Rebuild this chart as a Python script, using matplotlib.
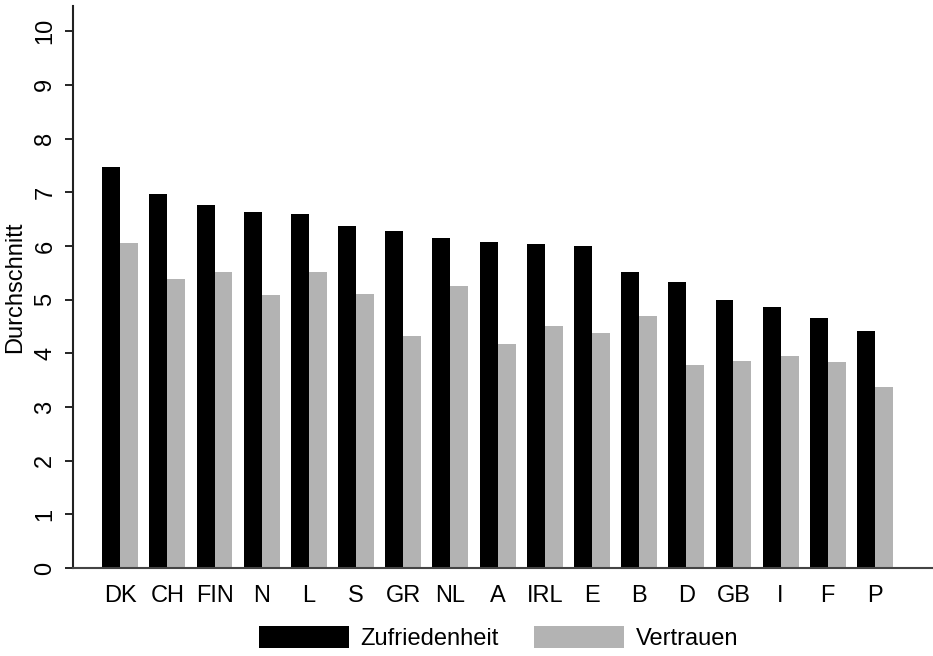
import matplotlib.pyplot as plt
import numpy as np

plt.rcParams['font.family'] = ['Liberation Sans', 'DejaVu Sans']

# Laender und Durchschnittswerte
laender = ['DK', 'CH', 'FIN', 'N', 'L', 'S', 'GR', 'NL', 'A', 'IRL', 'E', 'B', 'D', 'GB', 'I', 'F', 'P']
zufriedenheit = [7.47, 6.96, 6.77, 6.64, 6.60, 6.37, 6.28, 6.15, 6.07, 6.03, 5.99, 5.52, 5.33, 4.99, 4.86, 4.66, 4.41]
vertrauen = [6.06, 5.38, 5.51, 5.09, 5.52, 5.10, 4.32, 5.25, 4.18, 4.51, 4.37, 4.70, 3.78, 3.85, 3.95, 3.83, 3.37]
y_ticks = list(range(0, 11))

fig = plt.figure(figsize=(9.33, 6.56), dpi=100)
ax = fig.add_axes([73 / 933, 88 / 656, 1 - 73 / 933, (568 - 6) / 656])

x = np.arange(len(laender))
w = 0.38
ax.bar(x - w / 2, zufriedenheit, w, color='black', label='Zufriedenheit')
ax.bar(x + w / 2, vertrauen, w, color='#b3b3b3', label='Vertrauen')

ax.set_xlim(-1.0, 17.23)
ax.set_ylim(0, 10.47)
ax.set_yticks(y_ticks)
ax.set_yticklabels([str(t) for t in y_ticks], rotation=90, va='center', fontsize=17)
ax.set_xticks(x)
ax.set_xticklabels(laender, fontsize=17)
ax.tick_params(axis='x', length=0, pad=12)
ax.tick_params(axis='y', length=6, width=1.2, direction='out', pad=6)
ax.set_ylabel('Durchschnitt', fontsize=17, labelpad=6)

for s in ['top', 'right']:
    ax.spines[s].set_visible(False)
ax.spines['left'].set_linewidth(1.5)
ax.spines['bottom'].set_linewidth(1.5)
ax.spines['left'].set_color('#222222')
ax.spines['bottom'].set_color('#444444')

ax.legend(loc='center', bbox_to_anchor=(0.495, -0.124), ncol=2, frameon=False,
          fontsize=17, handlelength=3.8, handleheight=1.05, columnspacing=1.5,
          handletextpad=0.5, borderpad=0.1)

fig.savefig('out.png', dpi=100)
